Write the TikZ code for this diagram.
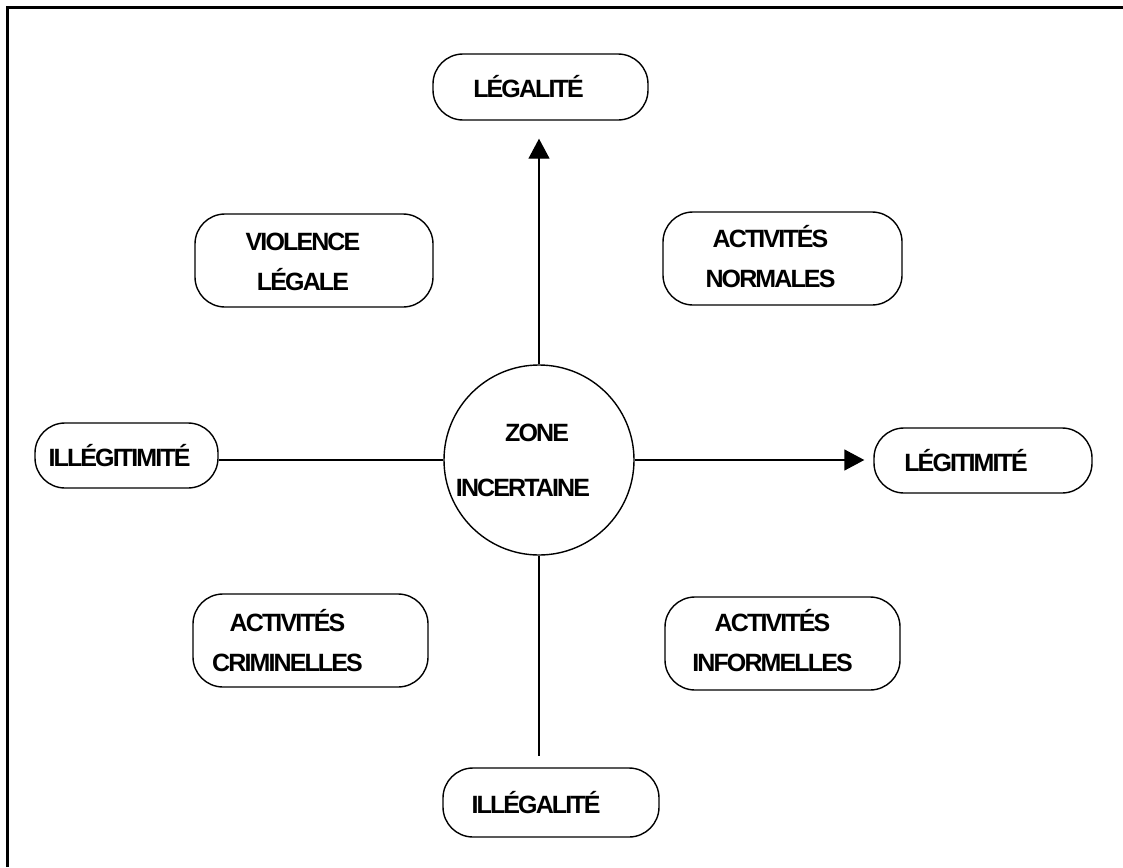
\documentclass[tikz,border=0pt]{standalone}
\usepackage{fontspec}
\setmainfont{Liberation Sans}[LetterSpace=-7.5]
\usetikzlibrary{arrows.meta}
\tikzset{
  box/.style={draw, line width=1.4pt, rounded corners=30pt, inner sep=0pt},
  lbl/.style={font=\bfseries\fontsize{25}{40}\selectfont, align=center, inner sep=0pt},
  conn/.style={line width=1.4pt},
  arr/.style={conn, -{Triangle[length=20pt,width=21pt]}},
}
\begin{document}
\begin{tikzpicture}[x=1pt,y=-1pt]
\useasboundingbox (0,0) rectangle (1123,867);
\draw[line width=3pt] (7.5,867) -- (7.5,7.5) -- (1123,7.5);

\node[draw, circle, line width=1.4pt, minimum size=190pt, inner sep=0pt,
      label={[lbl, font=\bfseries\fontsize{25}{55}\selectfont, xshift=-16pt]center:\hspace*{28pt}ZONE\\INCERTAINE}] (zc) at (539,460) {};

\node[box, minimum width=215pt, minimum height=66pt,
      label={[lbl, xshift=-12pt]center:LÉGALITÉ}] (legalite) at (540.5,87) {};
\node[box, minimum width=218pt, minimum height=65pt,
      label={[lbl, xshift=-17pt]center:LÉGITIMITÉ}] (legitimite) at (983,460.5) {};
\node[box, minimum width=216pt, minimum height=69pt,
      label={[lbl, xshift=-15pt]center:ILLÉGALITÉ}] (illegalite) at (551,802.5) {};
\node[box, minimum width=183pt, minimum height=65pt,
      label={[lbl, xshift=-7pt]center:ILLÉGITIMITÉ}] (illegitimite) at (126.5,455.5) {};

\node[box, minimum width=238pt, minimum height=93pt,
      label={[lbl, xshift=-11pt, yshift=-1pt]center:VIOLENCE\\LÉGALE}] (violence) at (314,260.5) {};
\node[box, minimum width=239pt, minimum height=93pt,
      label={[lbl, xshift=-12pt, yshift=2pt]center:ACTIVITÉS\\NORMALES}] (normales) at (782.5,258.5) {};
\node[box, minimum width=235pt, minimum height=93pt,
      label={[lbl, xshift=-23pt, yshift=0pt]center:ACTIVITÉS\\CRIMINELLES}] (criminelles) at (310.5,640.5) {};
\node[box, minimum width=235pt, minimum height=93pt,
      label={[lbl, xshift=-10pt, yshift=3pt]center:ACTIVITÉS\\INFORMELLES}] (informelles) at (782.5,643.5) {};

\draw[arr, shorten >=18pt] (zc.north) -- (zc.north |- legalite.south);
\draw[arr, shorten >=9pt] (zc.east) -- (zc.east -| legitimite.west);
\draw[conn, shorten >=11pt] (zc.south) -- (zc.south |- illegalite.north);
\draw[conn] (zc.west) -- (zc.west -| illegitimite.east);
\end{tikzpicture}
\end{document}
